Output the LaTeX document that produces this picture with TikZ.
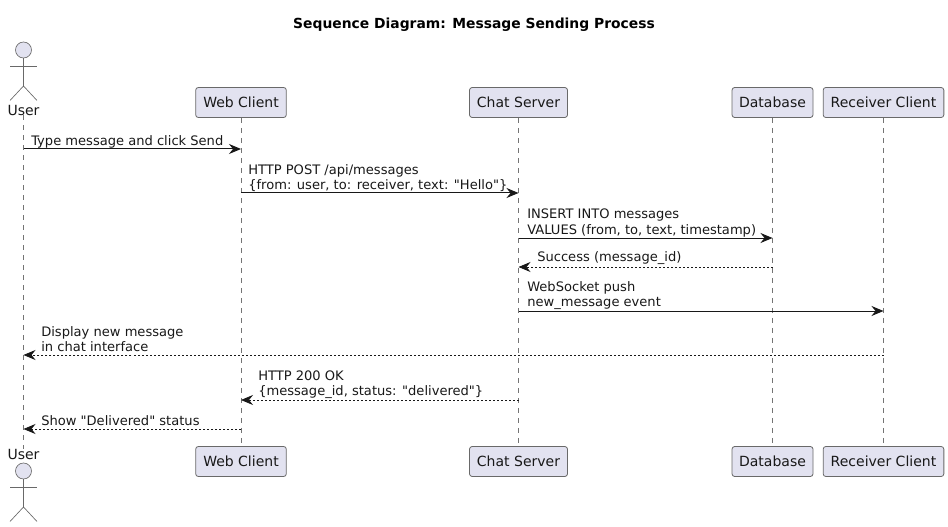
\documentclass[tikz,border=0pt]{standalone}
\usepackage{fontspec}
\setmainfont{DejaVu Sans}
\newfontfamily\plainfont{DejaVu Sans}
\usetikzlibrary{arrows.meta}
\definecolor{boxfill}{HTML}{E2E2F0}
\definecolor{inkcol}{HTML}{181818}
\tikzset{
  partbox/.style={draw=inkcol!65,line width=.6pt,fill=boxfill,rounded corners=2pt,minimum height=22.5pt,inner sep=0pt,font=\fontsize{10.5pt}{12.2pt}\selectfont,text=inkcol},
  actorhead/.style={circle,draw=inkcol!65,line width=.5pt,fill=boxfill,minimum size=12pt,inner sep=0pt},
  actorline/.style={draw=inkcol!65,line width=.5pt},
  actorname/.style={inner sep=0pt,font=\fontsize{10.5pt}{12.2pt}\selectfont,text=inkcol},
  lifeline/.style={draw=inkcol!60,line width=.5pt,dash pattern=on 3.75pt off 3.75pt},
  msg/.style={draw=inkcol,line width=.75pt,-{Stealth[length=9pt,width=7.5pt,inset=3pt]}},
  reply/.style={draw=inkcol,line width=.6pt,dash pattern=on 1.5pt off 1.5pt,-{Stealth[length=9pt,width=7.5pt,inset=3pt]}},
  msgtext/.style={anchor=south west,align=left,inner sep=0pt,font=\plainfont\fontsize{9.8pt}{11.5pt}\selectfont,text=inkcol},
}
\begin{document}
\begin{tikzpicture}[x=.75pt,y=-.75pt]
        \useasboundingbox (0,0) rectangle (948,527);
        \node (title) [inner sep=0pt,text=black,font=\fontsize{10.4pt}{12.2pt}\selectfont\bfseries] at (474,24.5) {Sequence Diagram: Message Sending Process};

        % participants, top row
        \node (usertop) [actorhead] at (23.5,50) {};
        \node (usertxt) [actorname] at (23.5,110) {User};
        \node (webtop) [partbox,minimum width=68pt] at (241,102.5) {Web Client};
        \node (chattop) [partbox,minimum width=73.5pt] at (518.5,102.5) {Chat Server};
        \node (dbtop) [partbox,minimum width=60.75pt] at (772.5,102.5) {Database};
        \node (recvtop) [partbox,minimum width=90.5pt] at (883.5,102.5) {Receiver Client};

        % participants, bottom row
        \node (userbot) [actorhead] at (23.5,471) {};
        \node (userbtxt) [actorname] at (23.5,454) {User};
        \node (webbot) [partbox,minimum width=68pt] at (241,461.5) {Web Client};
        \node (chatbot) [partbox,minimum width=73.5pt] at (518.5,461.5) {Chat Server};
        \node (dbbot) [partbox,minimum width=60.75pt] at (772.5,461.5) {Database};
        \node (recvbot) [partbox,minimum width=90.5pt] at (883.5,461.5) {Receiver Client};

        % stick figures
        \coordinate (userhip) at (23.5,86);
        \coordinate (userbhip) at (23.5,507);
        \draw [actorline] (usertop.south) -- (userhip);
        \draw [actorline] (10,66) -- (37,66);
        \draw [actorline] (10,100.5) -- (userhip) -- (37,100.5);
        \draw [actorline] (userbot.south) -- (userbhip);
        \draw [actorline] (10,487) -- (37,487);
        \draw [actorline] (10,521.5) -- (userbhip) -- (37,521.5);

        % lifelines
        \draw [lifeline] (usertxt.south) -- (userbtxt.north);
        \draw [lifeline] (webtop.south) -- (webbot.north);
        \draw [lifeline] (chattop.south) -- (chatbot.north);
        \draw [lifeline] (dbtop.south) -- (dbbot.north);
        \draw [lifeline] (recvtop.south) -- (recvbot.north);

        % message ends on the lifelines
        \coordinate (u1) at (usertop |- 0,149);
        \coordinate (w1) at (webtop |- 0,149);
        \coordinate (w2) at (webtop |- 0,193);
        \coordinate (c2) at (chattop |- 0,193);
        \coordinate (c3) at (chattop |- 0,238);
        \coordinate (d3) at (dbtop |- 0,238);
        \coordinate (d4) at (dbtop |- 0,267);
        \coordinate (c4) at (chattop |- 0,267);
        \coordinate (c5) at (chattop |- 0,311);
        \coordinate (r5) at (recvtop |- 0,311);
        \coordinate (r6) at (recvtop |- 0,355);
        \coordinate (u6) at (usertop |- 0,355);
        \coordinate (c7) at (chattop |- 0,400);
        \coordinate (w7) at (webtop |- 0,400);
        \coordinate (w8) at (webtop |- 0,429);
        \coordinate (u8) at (usertop |- 0,429);

        \draw [msg] (u1) -- (w1);
        \node (msg1) [msgtext] at (31,148) {Type message and click Send};
        \draw [msg] (w2) -- (c2);
        \node (msg2) [msgtext] at (248,192) {HTTP POST /api/messages\\\{from: user, to: receiver, text: "Hello"\}};
        \draw [msg] (c3) -- (d3);
        \node (msg3) [msgtext] at (527,237) {INSERT INTO messages\\VALUES (from, to, text, timestamp)};
        \draw [reply] (d4) -- (c4);
        \node (msg4) [msgtext] at (537,265) {Success (message\_id)};
        \draw [msg] (c5) -- (r5);
        \node (msg5) [msgtext] at (527,310) {WebSocket push\\new\_message event};
        \draw [reply] (r6) -- (u6);
        \node (msg6) [msgtext] at (41,352) {Display new message\\in chat interface};
        \draw [reply] (c7) -- (w7);
        \node (msg7) [msgtext] at (258,399) {HTTP 200 OK\\\{message\_id, status: "delivered"\}};
        \draw [reply] (w8) -- (u8);
        \node (msg8) [msgtext] at (41,425.5) {Show "Delivered" status};
\end{tikzpicture}
\end{document}
